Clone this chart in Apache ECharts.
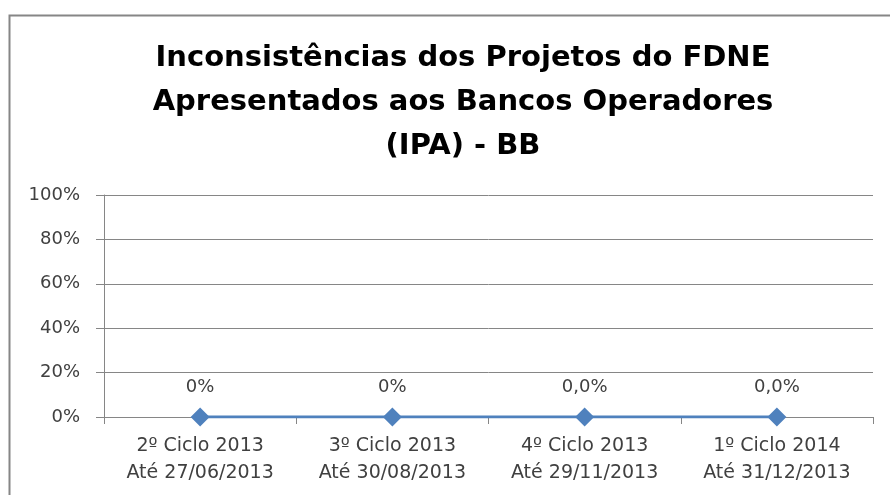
<!DOCTYPE html>
<html><head><meta charset="utf-8">
<script src="https://cdn.jsdelivr.net/npm/echarts@6/dist/echarts.min.js"></script>
<style>html,body{margin:0;padding:0;background:#fff}#c{width:890px;height:495px}</style>
</head><body><div id="c"></div>
<script>
var titleText = 'Inconsistências dos Projetos do FDNE\nApresentados aos Bancos Operadores\n(IPA) - BB';
var categories = ['2º Ciclo 2013\nAté 27/06/2013', '3º Ciclo 2013\nAté 30/08/2013', '4º Ciclo 2013\nAté 29/11/2013', '1º Ciclo 2014\nAté 31/12/2013'];
var values = [0, 0, 0, 0];
var valueLabels = ['0%', '0%', '0,0%', '0,0%'];
var yTicks = [0, 20, 40, 60, 80, 100];

var chart = echarts.init(document.getElementById('c'), null, {renderer: 'canvas'});
var font = 'DejaVu Sans';
chart.setOption({
  animation: false,
  backgroundColor: '#fff',
  graphic: [{type: 'rect', left: 7, top: 13, shape: {width: 900, height: 600}, style: {fill: 'none', stroke: '#868686', lineWidth: 2}, z: 0}],
  title: {
    text: titleText, left: 458, top: 31, textAlign: 'center',
    textStyle: {fontFamily: font, fontWeight: 'bold', fontSize: 29, color: '#000', lineHeight: 44}
  },
  grid: {left: 104, right: 17, top: 195, bottom: 78, containLabel: false},
  xAxis: {
    type: 'category', data: categories, boundaryGap: true,
    axisLine: {lineStyle: {color: '#868686', width: 1}},
    axisTick: {show: true, length: 7, lineStyle: {color: '#868686'}},
    axisLabel: {fontFamily: font, fontSize: 19, color: '#404040', lineHeight: 27, margin: 16}
  },
  yAxis: {
    type: 'value', min: yTicks[0], max: yTicks[yTicks.length - 1], interval: 20,
    axisLine: {show: true, lineStyle: {color: '#868686'}},
    axisTick: {show: true, length: 8, lineStyle: {color: '#868686'}},
    splitLine: {lineStyle: {color: '#868686'}},
    axisLabel: {fontFamily: font, fontSize: 18, color: '#404040', margin: 24, formatter: '{value}%'}
  },
  series: [{
    type: 'line', data: values,
    symbol: 'diamond', symbolSize: 19,
    lineStyle: {color: '#4F81BD', width: 3},
    itemStyle: {color: '#4F81BD'},
    label: {
      show: true, position: 'top', distance: 11,
      fontFamily: font, fontSize: 18, color: '#404040',
      formatter: function (p) { return valueLabels[p.dataIndex]; }
    }
  }]
});
</script></body></html>
